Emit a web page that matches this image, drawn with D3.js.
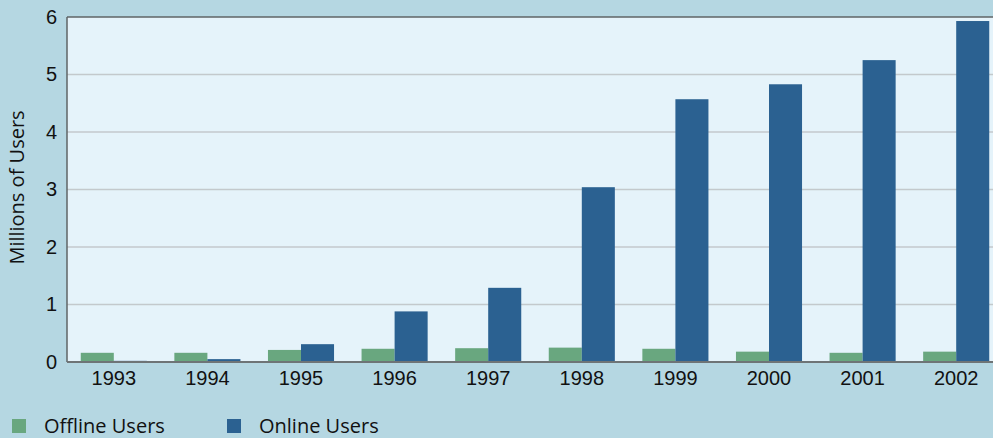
<!DOCTYPE html>
<html>
<head>
<meta charset="utf-8">
<script src="https://cdn.jsdelivr.net/npm/d3@7"></script>
<style>
  body { margin: 0; background: #b5d7e2; overflow: hidden; }
  svg { display: block; font-family: "Open Sans", "Noto Sans", sans-serif; }
  .axis-y .domain { display: none; }
  .axis-y .tick line { display: none; }
  .axis-x .tick line { display: none; }
  .axis-x .domain { display: none; }
</style>
</head>
<body>
<div id="chart"></div>
<script>
// Offline vs online users 1993 to 2002 (millions)
var years = ["1993","1994","1995","1996","1997","1998","1999","2000","2001","2002"];
var offline = [0.16, 0.16, 0.21, 0.23, 0.24, 0.25, 0.23, 0.18, 0.16, 0.18];
var online = [0.02, 0.05, 0.31, 0.88, 1.29, 3.04, 4.57, 4.83, 5.25, 5.93];
var seriesNames = ["Offline Users", "Online Users"];
var yTicks = [0, 1, 2, 3, 4, 5, 6];

var width = 993;
var height = 438;
var margin = {top: 17, left: 67, right: -10, bottom: 76};

var colors = d3.scaleOrdinal()
    .domain(seriesNames)
    .range(["#69a77f", "#2b6191"]);

var svg = d3.select('#chart')
    .append('svg')
    .attr('width', width)
    .attr('height', height);

var innerW = width - margin.left - margin.right;
var innerH = height - margin.top - margin.bottom;

var g = svg.append('g')
    .attr('transform', 'translate(' + margin.left + ',' + margin.top + ')');

var x0 = d3.scaleBand()
    .domain(years)
    .range([0, innerW])
    .paddingInner(0.294)
    .paddingOuter(0.147);

var x1 = d3.scaleBand()
    .domain(seriesNames)
    .range([0, x0.bandwidth()]);

var y = d3.scaleLinear()
    .domain([0, 6])
    .range([innerH, 0]);

// plot background
g.append('rect')
    .attr('width', innerW)
    .attr('height', innerH)
    .attr('fill', '#e5f3fa');

// gridlines
g.selectAll('.grid')
    .data(yTicks.slice(1, -1))
    .enter()
    .append('line')
    .attr('class', 'grid')
    .attr('x1', 0)
    .attr('x2', innerW)
    .attr('y1', function(d) { return y(d); })
    .attr('y2', function(d) { return y(d); })
    .attr('stroke', '#c3c9cc')
    .attr('stroke-width', 1.5);

// bars
var data = years.map(function(yr, i) {
  return {year: yr, values: [
    {id: seriesNames[0], value: offline[i]},
    {id: seriesNames[1], value: online[i]}
  ]};
});

var groups = g.selectAll('.year')
    .data(data)
    .enter()
    .append('g')
    .attr('class', 'year')
    .attr('transform', function(d) { return 'translate(' + x0(d.year) + ',0)'; });

groups.selectAll('rect')
    .data(function(d) { return d.values; })
    .enter()
    .append('rect')
    .attr('x', function(d) { return x1(d.id); })
    .attr('width', x1.bandwidth())
    .attr('y', function(d) { return y(d.value); })
    .attr('height', function(d) { return innerH - y(d.value); })
    .attr('fill', function(d) { return colors(d.id); });

// frame: top, left and bottom lines
g.append('line')
    .attr('x1', 0).attr('x2', innerW)
    .attr('y1', 0).attr('y2', 0)
    .attr('stroke', '#5f6466').attr('stroke-width', 1.5);
g.append('line')
    .attr('x1', 0).attr('x2', 0)
    .attr('y1', 0).attr('y2', innerH)
    .attr('stroke', '#5f6466').attr('stroke-width', 1.5);
g.append('line')
    .attr('x1', 0).attr('x2', innerW)
    .attr('y1', innerH).attr('y2', innerH)
    .attr('stroke', '#6e7476').attr('stroke-width', 2);

// axes
g.append('g')
    .attr('class', 'axis axis-y')
    .call(d3.axisLeft(y).tickValues(yTicks).tickFormat(d3.format('d')).tickSize(0).tickPadding(10))
    .selectAll('text')
    .attr('fill', '#111')
    .style('font-size', '20px');

g.append('g')
    .attr('class', 'axis axis-x')
    .attr('transform', 'translate(0,' + innerH + ')')
    .call(d3.axisBottom(x0).tickSize(0).tickPadding(9))
    .selectAll('text')
    .attr('fill', '#111')
    .style('font-size', '20px');

// y label
svg.append('text')
    .attr('transform', 'translate(24,' + (margin.top + innerH / 2 - 2) + ') rotate(-90)')
    .style('text-anchor', 'middle')
    .style('font-size', '20px')
    .attr('fill', '#111')
    .text('Millions of Users');

// legend
var legendX = [12, 227];
var legend = svg.selectAll('.legend')
    .data(seriesNames)
    .enter()
    .append('g')
    .attr('class', 'legend')
    .attr('transform', function(d, i) { return 'translate(' + legendX[i] + ',419)'; });

legend.append('rect')
    .attr('width', 14)
    .attr('height', 14)
    .attr('fill', function(d) { return colors(d); });

legend.append('text')
    .attr('x', 32)
    .attr('y', 7)
    .attr('dy', '0.36em')
    .style('font-size', '20px')
    .attr('fill', '#111')
    .text(function(d) { return d; });
</script>
</body>
</html>
